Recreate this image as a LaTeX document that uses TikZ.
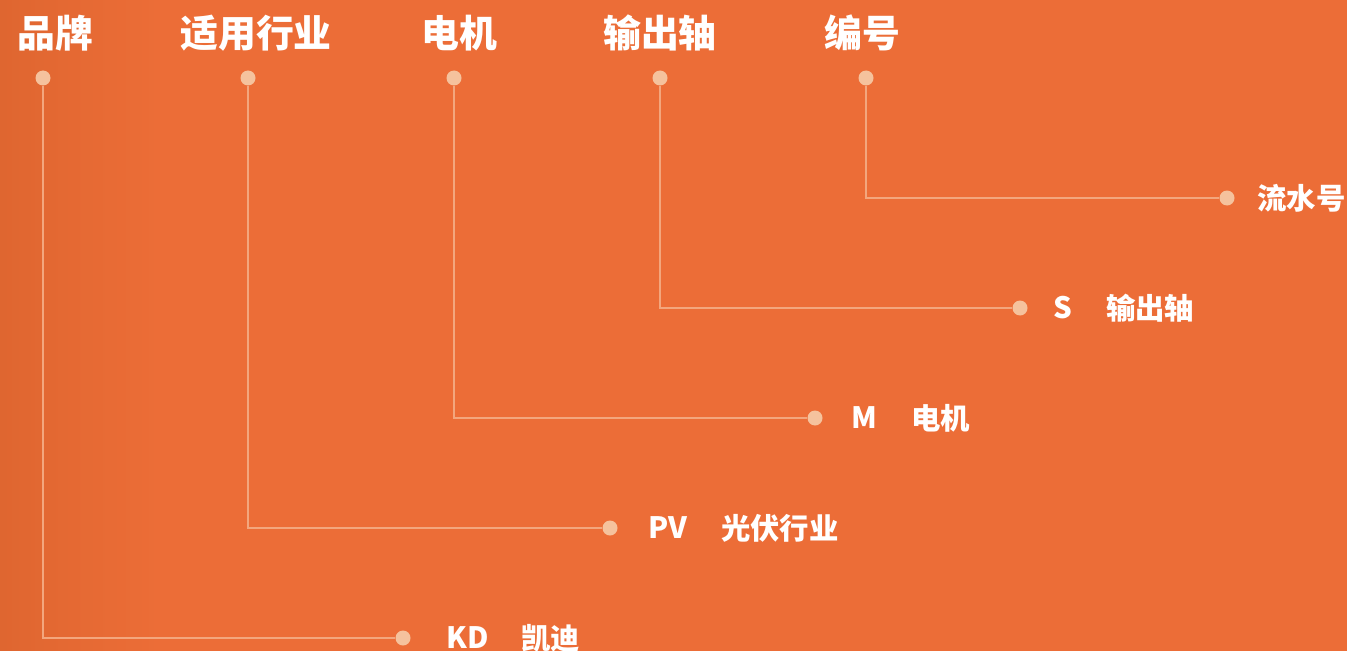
\documentclass[tikz,border=0pt]{standalone}
\usepackage{fontspec}
\newfontfamily\cjk{Noto Sans CJK SC}
\definecolor{bgorange}{HTML}{EC6D37}
\definecolor{bgdark}{HTML}{DF6630}
\definecolor{linepeach}{HTML}{F3A67D}
\definecolor{dotpeach}{HTML}{F5C29D}
\tikzset{
  head/.style={text=white,font=\cjk\bfseries\fontsize{38}{41}\selectfont,inner sep=0pt},
  item/.style={text=white,font=\cjk\bfseries\fontsize{29.5}{33}\selectfont,inner sep=0pt,anchor=west},
  knot/.style={circle,fill=dotpeach,minimum size=15bp,inner sep=0pt},
  lead/.style={draw=linepeach,line width=2.2bp}
}

\begin{document}
\begin{tikzpicture}[x=1bp,y=-1bp]
\useasboundingbox (0,0) rectangle (1347,651);
\fill [bgorange] (0,0) rectangle (1347,651);
\shade [left color=bgdark,right color=bgorange] (0,0) rectangle (160,651);

\node [head] at (55,33) (hbrand) {品牌};
\node [head] at (256,33) (hfield) {适用行业};
\node [head] at (459,33) (hmotor) {电机};
\node [head] at (660,33) (hshaft) {输出轴};
\node [head] at (862,33) (hnum) {编号};

  \begin{scope}[every node/.style={knot}]
    \node at (43,78) (tbrand) {};
    \node at (248,78) (tfield) {};
    \node at (454,78) (tmotor) {};
    \node at (660,78) (tshaft) {};
    \node at (866,78) (tnum) {};
    \node at (403,638) (ebrand) {};
    \node at (610,528) (efield) {};
    \node at (815,418) (emotor) {};
    \node at (1020,308) (eshaft) {};
    \node at (1227,198) (enum) {};
  \end{scope}

  \begin{scope}[every path/.style={lead}]
    \path (tbrand.south) |- (ebrand.west);
    \path (tfield.south) |- (efield.west);
    \path (tmotor.south) |- (emotor.west);
    \path (tshaft.south) |- (eshaft.west);
    \path (tnum.south) |- (enum.west);
  \end{scope}

  \node [item] at (446,638) (kd) {KD};
  \node [item] at (521,638) (kaidi) {凯迪};
  \node [item] at (648,528) (pv) {PV};
  \node [item] at (721,528) (pvfield) {光伏行业};
  \node [item] at (851,418) (m) {M};
  \node [item] at (911,418) (motor) {电机};
  \node [item] at (1053,308) (s) {S};
  \node [item] at (1106,308) (shaft) {输出轴};
  \node [item] at (1257,198) (serial) {流水号};
\end{tikzpicture}
\end{document}
